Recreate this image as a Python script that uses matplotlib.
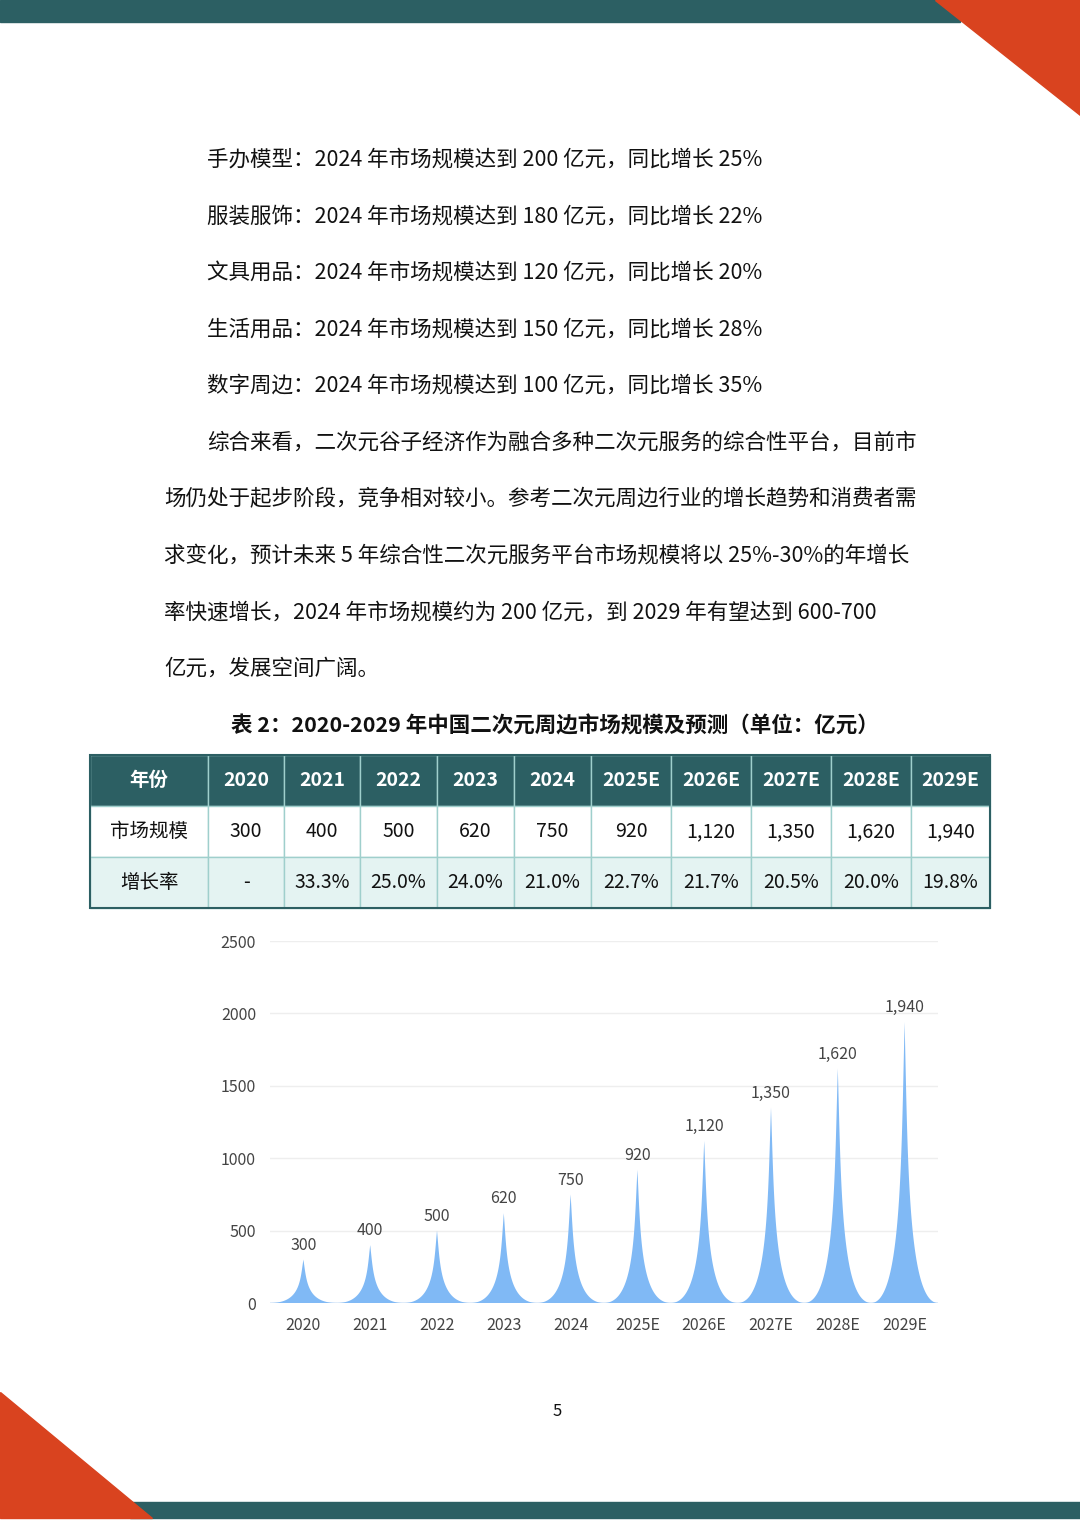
import matplotlib
matplotlib.use("Agg")
import matplotlib.pyplot as plt
from matplotlib.patches import Polygon, Rectangle
import numpy as np

plt.rcParams['font.family'] = ['Noto Sans CJK SC', 'DejaVu Sans']

years = ['2020', '2021', '2022', '2023', '2024', '2025E', '2026E', '2027E', '2028E', '2029E']
market = [300, 400, 500, 620, 750, 920, 1120, 1350, 1620, 1940]
growth = ['-', '33.3%', '25.0%', '24.0%', '21.0%', '22.7%', '21.7%', '20.5%', '20.0%', '19.8%']
bullets = [
    "手办模型：2024 年市场规模达到 200 亿元，同比增长 25%",
    "服装服饰：2024 年市场规模达到 180 亿元，同比增长 22%",
    "文具用品：2024 年市场规模达到 120 亿元，同比增长 20%",
    "生活用品：2024 年市场规模达到 150 亿元，同比增长 28%",
    "数字周边：2024 年市场规模达到 100 亿元，同比增长 35%",
]
para = [
    "综合来看，二次元谷子经济作为融合多种二次元服务的综合性平台，目前市",
    "场仍处于起步阶段，竞争相对较小。参考二次元周边行业的增长趋势和消费者需",
    "求变化，预计未来 5 年综合性二次元服务平台市场规模将以 25%-30%的年增长",
    "率快速增长，2024 年市场规模约为 200 亿元，到 2029 年有望达到 600-700",
    "亿元，发展空间广阔。",
]
title = "表 2：2020-2029 年中国二次元周边市场规模及预测（单位：亿元）"

W, H = 1080, 1528
fig = plt.figure(figsize=(W/100, H/100), dpi=100)
bg = fig.add_axes([0, 0, 1, 1])
bg.set_xlim(0, W); bg.set_ylim(H, 0); bg.axis('off')

teal = '#2c5f63'
orange = '#d9431f'
bg.add_patch(Rectangle((0, 0), 960, 22, color=teal))
bg.add_patch(Polygon([(935, 0), (1080, 0), (1080, 115)], color=orange))
bg.add_patch(Rectangle((130, 1502), 950, 16, color=teal))
bg.add_patch(Polygon([(0, 1392), (0, 1518), (152, 1518)], color=orange))

for i, s in enumerate(bullets):
    bg.text(207, 160 + i*56.5, s, fontsize=15.5, va='center', ha='left', color='#111')
for i, s in enumerate(para):
    x = 207 if i == 0 else 164
    bg.text(x, 443 + i*56.5, s, fontsize=15.5, va='center', ha='left', color='#111')
bg.text(555, 726, title, fontsize=15.5, fontweight='bold', va='center', ha='center', color='#111')

# table
cols = [90, 208, 284, 360, 437, 514, 591, 671, 751, 831, 911, 990]
rows = [755, 806, 857, 908]
row_data = [['年份'] + years, ['市场规模'] + [f"{v:,}" for v in market], ['增长率'] + growth]
fills = [teal, 'white', '#e4f3f2']
for r in range(3):
    for c in range(11):
        bg.add_patch(Rectangle((cols[c], rows[r]), cols[c+1]-cols[c], rows[r+1]-rows[r],
                               facecolor=fills[r], edgecolor='#9fcfcc' if r else '#9fcfcc', lw=1))
        bg.text((cols[c]+cols[c+1])/2, (rows[r]+rows[r+1])/2, row_data[r][c],
                fontsize=14, ha='center', va='center',
                color='white' if r == 0 else '#111', fontweight='bold' if r == 0 else 'normal')
bg.add_patch(Rectangle((90, 755), 900, 153, fill=False, edgecolor=teal, lw=1.5))
bg.text(557, 1411, "5", fontsize=12, ha='center', va='center', color='#111')

# chart
ax = fig.add_axes([270/W, 1 - 1303/H, 668/W, 362/H])
ax.set_xlim(-0.5, 9.5); ax.set_ylim(0, 2500)
def bez(p0, p1, p2, p3, t):
    t = t[:, None]
    return (1-t)**3*p0 + 3*(1-t)**2*t*p1 + 3*(1-t)*t**2*p2 + t**3*p3
t = np.linspace(0, 1, 60)
for i, v in enumerate(market):
    p = lambda x, y: np.array([i - 0.5 + x/10, v*(10-y)/10])
    left = bez(p(0, 10), p(4.5, 10), p(4.5, 5), p(5, 0), t)
    right = bez(p(5, 0), p(5.5, 5), p(5.5, 10), p(10, 10), t)
    pts = np.vstack([left, right])
    ax.add_patch(Polygon(pts, closed=True, facecolor='#80b9f5', edgecolor='none'))
    ax.text(i, v + 40, f"{v:,}", ha='center', va='bottom', fontsize=11.5, color='#444')
ax.set_xticks(range(10)); ax.set_xticklabels(years)
ax.set_yticks(range(0, 2501, 500))
ax.tick_params(length=0, labelsize=11.5, labelcolor='#444', pad=10)
ax.grid(axis='y', color='#eeeeee', lw=1)
ax.set_axisbelow(True)
for s in ax.spines.values(): s.set_visible(False)
ax.axhline(0, color='#80b9f5', lw=1)

fig.savefig('out.png', dpi=100)
